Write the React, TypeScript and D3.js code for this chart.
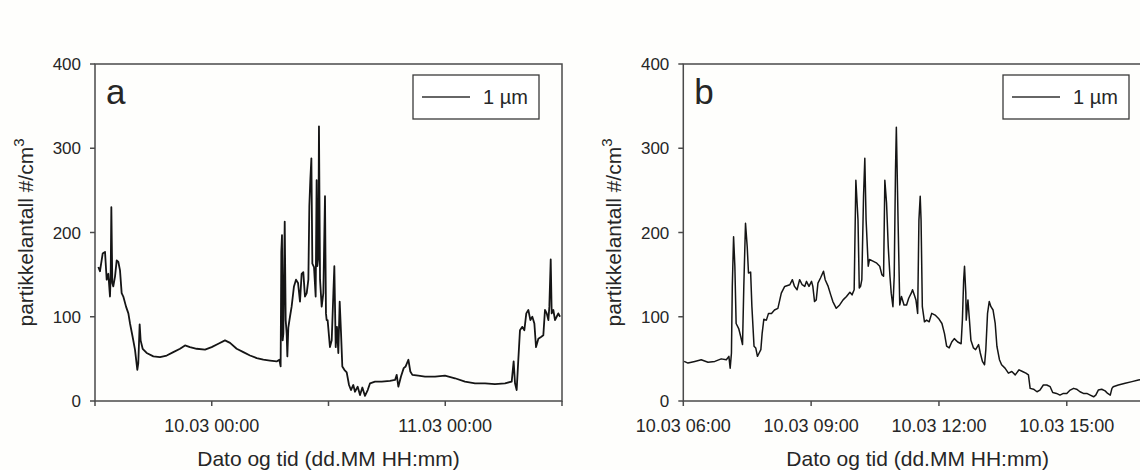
import React from "react";
import * as d3 from "d3";

// ---------- Data ----------
// Panel a: hours after 09.03 12:00
const aHours = [0.34,0.51,0.79,1.03,1.20,1.37,1.54,1.61,1.68,1.78,1.88,2.06,2.23,2.40,2.57,2.74,2.91,3.19,3.43,3.60,3.87,4.11,4.35,4.45,4.59,4.69,4.90,5.31,6.00,6.68,7.37,8.05,8.74,9.25,9.76,10.45,11.31,11.99,12.68,13.36,13.88,14.56,15.25,15.93,16.62,17.30,17.99,18.67,18.95,19.08,19.15,19.22,19.29,19.36,19.50,19.60,19.70,19.77,19.87,20.04,20.21,20.45,20.66,20.87,21.07,21.24,21.41,21.58,21.76,21.93,22.03,22.13,22.24,22.34,22.51,22.68,22.78,22.85,22.95,23.02,23.13,23.30,23.47,23.64,23.74,23.81,23.91,24.15,24.33,24.50,24.60,24.74,24.87,25.01,25.15,25.29,25.42,25.63,25.87,26.11,26.31,26.55,26.72,27.00,27.24,27.48,27.75,28.03,28.27,28.78,29.47,30.32,30.84,31.01,31.18,31.45,31.73,31.93,32.21,32.41,32.62,33.23,33.92,34.95,35.97,37.00,38.03,39.06,40.09,41.11,42.14,42.83,43.03,43.17,43.34,43.51,43.68,43.92,44.13,44.33,44.54,44.75,44.95,45.16,45.33,45.57,45.84,46.08,46.25,46.43,46.60,46.70,46.84,46.94,47.11,47.28,47.45,47.62,47.80];
const aValues = [159,154,175,177,144,151,124,148,230,140,136,148,167,165,155,128,124,112,104,92,76,61,37,45,91,72,62,57,53,52,54,58,62,66,64,62,61,64,68,72,69,62,58,54,51,49,48,47,49,41,177,197,72,80,213,96,80,53,87,100,112,136,144,140,118,151,153,124,128,144,231,262,288,163,159,124,262,160,170,326,144,112,128,243,104,96,96,64,72,128,160,64,88,57,118,80,41,37,34,19,13,19,11,17,7,16,6,13,21,23,23,24,25,31,17,29,39,41,49,35,31,30,29,29,30,27,23,21,21,20,21,23,47,21,13,49,84,88,84,104,108,96,100,92,64,74,76,78,108,104,96,112,168,104,108,96,100,104,100];

// Panel b: hours after 10.03 06:00
const bHours = [0.02,0.11,0.27,0.42,0.58,0.74,0.89,1.01,1.07,1.10,1.13,1.15,1.18,1.21,1.24,1.30,1.35,1.39,1.42,1.46,1.50,1.53,1.58,1.61,1.66,1.70,1.74,1.78,1.82,1.85,1.89,1.95,2.00,2.07,2.14,2.22,2.30,2.38,2.50,2.56,2.61,2.67,2.73,2.79,2.85,2.89,2.95,3.01,3.04,3.08,3.12,3.16,3.22,3.29,3.33,3.40,3.46,3.51,3.59,3.67,3.75,3.83,3.91,3.96,4.01,4.05,4.10,4.13,4.16,4.19,4.23,4.26,4.29,4.34,4.37,4.45,4.53,4.61,4.66,4.70,4.73,4.77,4.81,4.85,4.88,4.92,4.95,4.98,5.00,5.04,5.08,5.12,5.18,5.24,5.29,5.35,5.38,5.42,5.46,5.50,5.53,5.56,5.58,5.61,5.66,5.71,5.77,5.83,5.91,5.99,6.07,6.13,6.18,6.24,6.30,6.36,6.44,6.52,6.55,6.58,6.60,6.63,6.64,6.68,6.71,6.75,6.81,6.86,6.93,6.97,7.02,7.07,7.10,7.14,7.18,7.22,7.27,7.32,7.36,7.42,7.47,7.55,7.63,7.71,7.79,7.88,7.96,8.04,8.10,8.14,8.22,8.30,8.37,8.45,8.53,8.61,8.67,8.76,8.84,8.92,9.00,9.08,9.16,9.23,9.31,9.39,9.47,9.55,9.63,9.68,9.74,9.82,9.90,9.96,10.02,10.06,10.09,10.21,10.37,10.53,10.68,10.95];
const bValues = [47,45,47,49,46,47,50,49,53,39,57,136,195,160,92,86,76,67,136,211,183,152,153,112,65,63,53,57,61,80,97,96,104,104,108,110,128,136,138,144,136,132,144,138,136,142,136,142,136,118,120,140,146,154,144,136,126,118,110,114,120,124,129,126,132,262,215,134,136,144,243,288,215,160,168,166,164,160,150,148,262,235,183,148,128,112,148,274,325,215,114,124,114,114,122,128,132,126,120,104,215,243,215,112,94,96,94,104,102,98,92,80,65,63,70,74,70,68,96,144,160,128,96,120,100,72,63,61,67,57,47,43,61,104,118,112,108,92,65,49,43,39,33,35,31,37,35,33,31,15,14,11,13,19,19,17,10,9,7,9,9,13,15,14,11,9,9,7,5,7,13,14,12,9,7,15,17,19,21,23,25,27];

const yTicks = [0, 100, 200, 300, 400];
const aTickHours = [0, 12, 24, 36, 48];
const aTickLabels = ["", "10.03 00:00", "", "11.03 00:00", ""];
const bTickHours = [0, 3, 6, 9];
const bTickLabels = ["10.03 06:00", "10.03 09:00", "10.03 12:00", "10.03 15:00"];

const aStart = new Date(2014, 2, 9, 12, 0);
const bStart = new Date(2014, 2, 10, 6, 0);
const H = 3600 * 1000;

const FONT = "'Liberation Sans', Arial, sans-serif";
const TXT = "#262626";
const AX = "#4a4a4a";

type PanelProps = {
  letter: string;
  start: Date;
  spanHours: number;
  hours: number[];
  values: number[];
  tickHours: number[];
  tickLabels: string[];
  left: number;
  right: number;
  lineWidth: number;
};

function Panel(p: PanelProps) {
  const top = 64;
  const bottom = 401;
  const x = d3
    .scaleTime()
    .domain([p.start, new Date(p.start.getTime() + p.spanHours * H)])
    .range([p.left, p.right]);
  const y = d3.scaleLinear().domain([0, 400]).range([bottom, top]);
  const pts = p.hours.map((h, i) => ({ t: new Date(p.start.getTime() + h * H), v: p.values[i] }));
  const line = d3
    .line<{ t: Date; v: number }>()
    .x((d) => x(d.t))
    .y((d) => y(d.v));
  const cx = (p.left + p.right) / 2;
  const cy = (top + bottom) / 2;
  const lbx = p.left - 62;
  const boxR = p.right - 23;
  const boxL = boxR - 126;
  return (
    <g>
      <path d={line(pts) || ""} fill="none" stroke="#151515" strokeWidth={p.lineWidth} strokeLinejoin="round" />
      <rect x={p.left} y={top} width={p.right - p.left} height={bottom - top} fill="none" stroke={AX} strokeWidth={1.5} />
      {yTicks.map((v) => (
        <g key={v}>
          <line x1={p.left - 5} x2={p.left} y1={y(v)} y2={y(v)} stroke={AX} strokeWidth={1.5} />
          <text x={p.left - 14} y={y(v)} dy="0.36em" textAnchor="end" fontSize={17} fill={TXT} fontFamily={FONT}>
            {v}
          </text>
        </g>
      ))}
      {p.tickHours.map((h, i) => {
        const tx = x(new Date(p.start.getTime() + h * H));
        return (
          <g key={h}>
            <line x1={tx} x2={tx} y1={bottom} y2={bottom + 5} stroke={AX} strokeWidth={1.5} />
            {p.tickLabels[i] ? (
              <text x={tx} y={432} textAnchor="middle" fontSize={18} fill={TXT} fontFamily={FONT}>
                {p.tickLabels[i]}
              </text>
            ) : null}
          </g>
        );
      })}
      <text x={cx} y={466} textAnchor="middle" fontSize={21} fill={TXT} fontFamily={FONT}>
        Dato og tid (dd.MM HH:mm)
      </text>
      <text
        transform={`translate(${lbx},${cy}) rotate(-90)`}
        textAnchor="middle"
        fontSize={21}
        fill={TXT}
        fontFamily={FONT}
      >
        partikkelantall #/cm
        <tspan fontSize={15} dy={-9}>
          3
        </tspan>
      </text>
      <text x={p.left + 11} y={104} fontSize={35} fill={TXT} fontFamily={FONT}>
        {p.letter}
      </text>
      <rect x={boxL} y={75} width={126} height={44} fill="#fff" stroke="#3a3a3a" strokeWidth={1.3} />
      <line x1={boxL + 9} x2={boxL + 57} y1={97} y2={97} stroke="#333" strokeWidth={1.3} />
      <text x={boxL + 70} y={104} fontSize={20} fill={TXT} fontFamily={FONT}>
        1 µm
      </text>
    </g>
  );
}

export default function App() {
  return (
    <svg
      width={1140}
      height={470}
      style={{ position: "absolute", left: 0, top: 0, background: "#fefefc", display: "block" }}
    >
      <Panel
        letter="a"
        start={aStart}
        spanHours={48}
        hours={aHours}
        values={aValues}
        tickHours={aTickHours}
        tickLabels={aTickLabels}
        left={95}
        right={562}
        lineWidth={1.8}
      />
      <Panel
        letter="b"
        start={bStart}
        spanHours={11}
        hours={bHours}
        values={bValues}
        tickHours={bTickHours}
        tickLabels={bTickLabels}
        left={683.3}
        right={1152}
        lineWidth={1.5}
      />
    </svg>
  );
}
